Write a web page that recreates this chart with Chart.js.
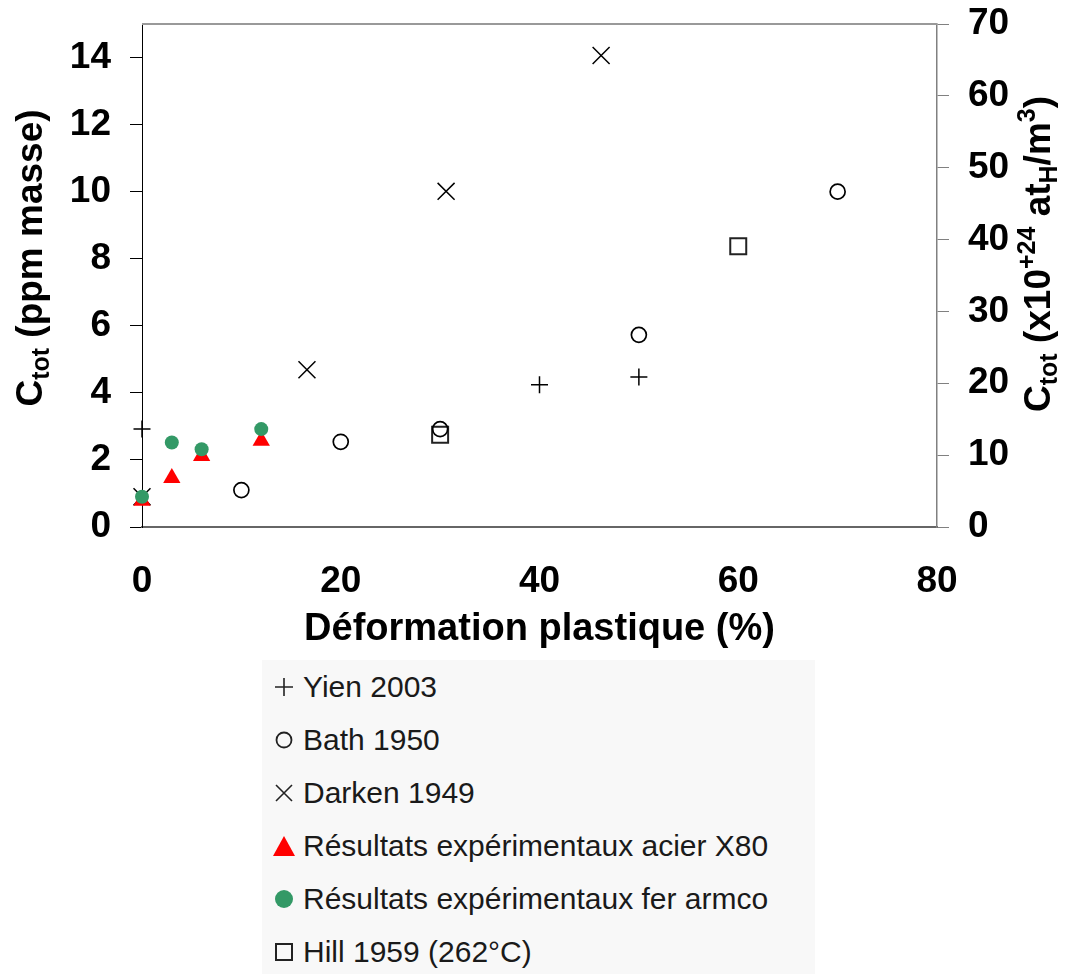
<!DOCTYPE html>
<html>
<head>
<meta charset="utf-8">
<script src="https://cdn.jsdelivr.net/npm/chart.js@4/dist/chart.umd.min.js"></script>
<style>
  body { margin: 0; background: #fff; }
  #wrap { position: relative; width: 1076px; height: 974px; }
  #legend {
    position: absolute; left: 262px; top: 660px; width: 553px; height: 314px;
    background: #f8f8f8;
    font-family: "Liberation Sans", Arial, sans-serif; font-size: 30px; color: #1a1a1a;
  }
  .row { height: 53px; display: flex; align-items: center; }
  .row svg { margin-left: 11px; margin-right: 8px; flex: none; }
</style>
</head>
<body>
<div id="wrap">
  <canvas id="chart" width="1076" height="660"></canvas>
  <div id="legend"></div>
</div>
<script>
/* Data */
const seriesLabels = [
  'Yien 2003',
  'Bath 1950',
  'Darken 1949',
  'Résultats expérimentaux acier X80',
  'Résultats expérimentaux fer armco',
  'Hill 1959 (262°C)'
];

const yienX = [0, 40, 50];
const yienY = [2.92, 4.24, 4.47];

const bathX = [10, 20, 30, 50, 70];
const bathY = [1.1, 2.54, 2.92, 5.73, 10.0];

const darkenX = [0, 16.6, 30.6, 46.2];
const darkenY = [0.9, 4.69, 10.01, 14.06];

const x80X = [0, 3, 6, 12];
const x80Y = [0.78, 1.46, 2.12, 2.57];

const armcoX = [0, 3, 6, 12];
const armcoY = [0.9, 2.52, 2.32, 2.92];

const hillX = [30, 60];
const hillY = [2.75, 8.37];

const FONT = '"Liberation Sans", Arial, sans-serif';
const GREEN = '#339966';
const RED = '#ff0000';

function pts(xs, ys) {
  return xs.map((x, i) => ({ x: x, y: ys[i] }));
}

// top frame line of the plot
const framePlugin = {
  id: 'frame',
  beforeDatasetsDraw(chart) {
    const { ctx, chartArea } = chart;
    ctx.save();
    ctx.strokeStyle = '#999';
    ctx.lineWidth = 2;
    ctx.beginPath();
    ctx.moveTo(chartArea.left, chartArea.top);
    ctx.lineTo(chartArea.right, chartArea.top);
    ctx.stroke();
    ctx.restore();
  }
};

// rotated axis titles with sub/superscripts
function drawRich(ctx, parts, baseX, cy) {
  ctx.save();
  ctx.translate(baseX, cy);
  ctx.rotate(-Math.PI / 2);
  ctx.fillStyle = '#000';
  ctx.textBaseline = 'alphabetic';
  let total = 0;
  parts.forEach(p => {
    ctx.font = 'bold ' + (p.s ? 25 : 37) + 'px ' + FONT;
    p.w = ctx.measureText(p.t).width;
    total += p.w;
  });
  let x = -total / 2;
  parts.forEach(p => {
    ctx.font = 'bold ' + (p.s ? 25 : 37) + 'px ' + FONT;
    ctx.fillText(p.t, x, p.dy || 0);
    x += p.w;
  });
  ctx.restore();
}

const titlePlugin = {
  id: 'axisTitles',
  afterDraw(chart) {
    const ctx = chart.ctx;
    drawRich(ctx, [
      { t: 'C' }, { t: 'tot', s: true, dy: 7 }, { t: ' (ppm masse)' }
    ], 42, 258);
    drawRich(ctx, [
      { t: 'C' }, { t: 'tot', s: true, dy: 7 }, { t: ' (x10' },
      { t: '+24', s: true, dy: -15 }, { t: ' at' }, { t: 'H', s: true, dy: 7 },
      { t: '/m' }, { t: '3', s: true, dy: -15 }, { t: ')' }
    ], 1050, 254);
  }
};

const datasets = [
  { label: seriesLabels[0], data: pts(yienX, yienY), pointStyle: 'cross', pointRadius: 8.5,
    borderColor: '#000', backgroundColor: 'transparent', borderWidth: 1.5, order: 4 },
  { label: seriesLabels[1], data: pts(bathX, bathY), pointStyle: 'circle', pointRadius: 7.5,
    borderColor: '#000', backgroundColor: 'transparent', borderWidth: 1.7, order: 4 },
  { label: seriesLabels[2], data: pts(darkenX, darkenY), pointStyle: 'crossRot', pointRadius: 12,
    borderColor: '#000', backgroundColor: 'transparent', borderWidth: 1.5, order: 5 },
  { label: seriesLabels[3], data: pts(x80X, x80Y), pointStyle: 'triangle', pointRadius: 10,
    borderColor: RED, backgroundColor: RED, borderWidth: 0, order: 2 },
  { label: seriesLabels[4], data: pts(armcoX, armcoY), pointStyle: 'circle', pointRadius: 7,
    borderColor: GREEN, backgroundColor: GREEN, borderWidth: 0, order: 1 },
  { label: seriesLabels[5], data: pts(hillX, hillY), pointStyle: 'rect', pointRadius: 11.3,
    borderColor: '#222', backgroundColor: 'transparent', borderWidth: 2, order: 4 }
];
datasets.forEach(d => {
  d.yAxisID = 'y';
  d.pointHoverRadius = d.pointRadius;
  d.clip = false;
});

const tickFont = { family: FONT, size: 37, weight: 'bold' };

function fitY(width) {
  return s => { s.width = width; s.paddingTop = 0; s.paddingBottom = 0; };
}

const chart = new Chart(document.getElementById('chart').getContext('2d'), {
  type: 'scatter',
  data: { datasets: datasets },
  options: {
    responsive: false,
    animation: false,
    events: [],
    layout: { padding: { top: 24, left: 0, right: 0, bottom: 0 } },
    plugins: { legend: { display: false }, tooltip: { enabled: false } },
    scales: {
      x: {
        type: 'linear', min: 0, max: 80,
        ticks: { stepSize: 20, padding: 33, font: tickFont, color: '#000' },
        grid: { drawOnChartArea: false, drawTicks: false },
        border: { color: '#666', width: 2 },
        title: { display: true, text: 'Déformation plastique (%)', color: '#000',
          font: { family: FONT, size: 38, weight: 'bold' }, padding: { top: 0, bottom: 8 } },
        afterFit: s => { s.height = 133; s.paddingLeft = 0; s.paddingRight = 0; }
      },
      y: {
        type: 'linear', position: 'left', min: 0, max: 15,
        ticks: { stepSize: 2, includeBounds: false, padding: 19, font: tickFont, color: '#000' },
        grid: { drawOnChartArea: false, tickLength: 12, color: '#000' },
        border: { color: '#000', width: 1 },
        afterFit: fitY(142)
      },
      y2: {
        type: 'linear', position: 'right', min: 0, max: 70,
        ticks: { stepSize: 10, padding: 19, font: tickFont, color: '#000' },
        grid: { drawOnChartArea: false, tickLength: 12, color: '#808080' },
        border: { color: '#808080', width: 1.5 },
        afterFit: fitY(139)
      }
    }
  },
  plugins: [framePlugin, titlePlugin]
});

// legend (HTML) built from the datasets
function markerSvg(d) {
  const st = 'stroke="#222" fill="none"';
  let inner = '';
  if (d.pointStyle === 'cross') {
    inner = '<path d="M2 11H20M11 2V20" ' + st + ' stroke-width="1.6"/>';
  } else if (d.pointStyle === 'crossRot') {
    inner = '<path d="M3 3L19 19M19 3L3 19" ' + st + ' stroke-width="1.6"/>';
  } else if (d.pointStyle === 'triangle') {
    inner = '<polygon points="11,1 22,21 0,21" fill="' + d.backgroundColor + '"/>';
  } else if (d.pointStyle === 'rect') {
    inner = '<rect x="3" y="3" width="16" height="16" ' + st + ' stroke-width="2"/>';
  } else if (d.backgroundColor !== 'transparent') {
    inner = '<circle cx="11" cy="11" r="9" fill="' + d.backgroundColor + '"/>';
  } else {
    inner = '<circle cx="11" cy="11" r="7.5" ' + st + ' stroke-width="1.8"/>';
  }
  return '<svg width="22" height="22" viewBox="0 0 22 22">' + inner + '</svg>';
}

const legend = document.getElementById('legend');
chart.data.datasets.forEach(d => {
  const row = document.createElement('div');
  row.className = 'row';
  row.innerHTML = markerSvg(d) + '<span>' + d.label + '</span>';
  legend.appendChild(row);
});
</script>
</body>
</html>
